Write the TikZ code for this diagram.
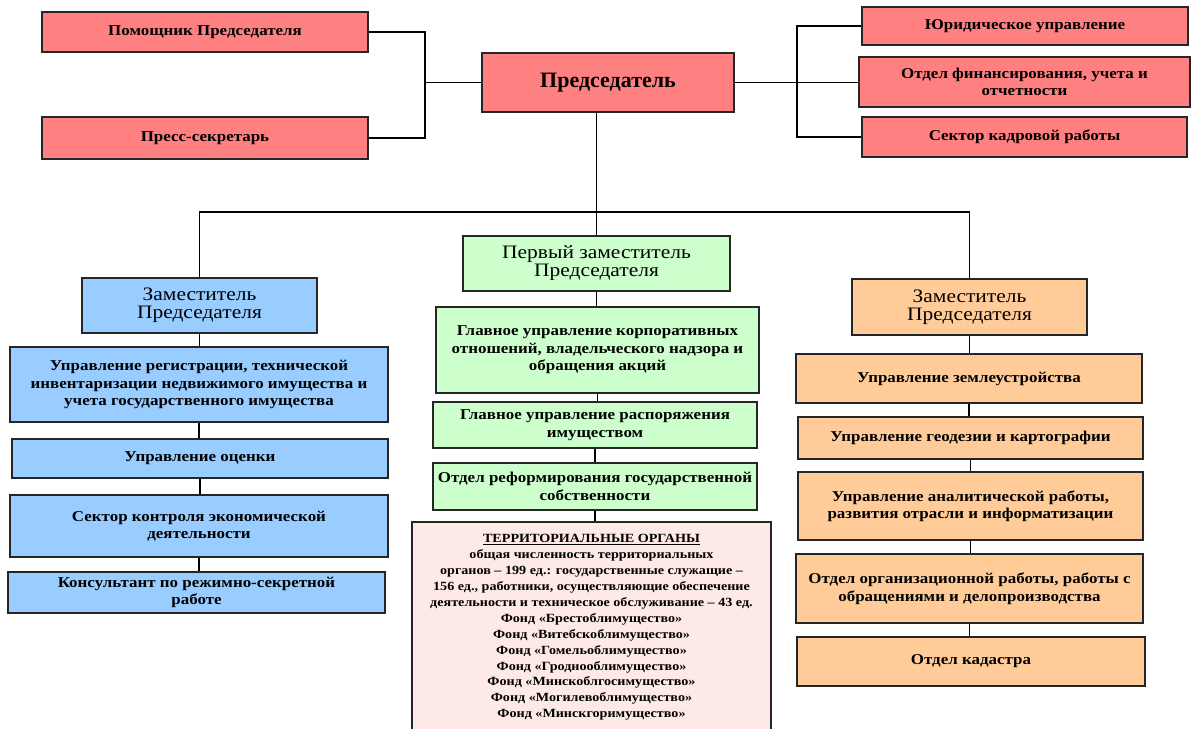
\documentclass[tikz,border=0pt]{standalone}
\usepackage{fontspec}
\setmainfont{Liberation Serif}
\newfontfamily\wideserif{Liberation Serif}[FakeStretch=1.13]
\definecolor{chairred}{RGB}{255,128,128}
\definecolor{deputyblue}{RGB}{153,204,255}
\definecolor{firstgreen}{RGB}{204,255,204}
\definecolor{deputyorange}{RGB}{255,204,153}
\definecolor{terrpink}{RGB}{253,233,229}

\begin{document}
\begin{tikzpicture}[x=1pt, y=-1pt,
	box/.style={draw=black!85, line width=1.4pt, align=center, inner sep=0pt,
		font=\wideserif\bfseries\fontsize{15}{17.5}\selectfont},
	redbox/.style={box, fill=chairred},
	bluebox/.style={box, fill=deputyblue},
	greenbox/.style={box, fill=firstgreen},
	orangebox/.style={box, fill=deputyorange},
	deputy/.style={font=\wideserif\fontsize{19}{18}\selectfont},
	link/.style={draw=black, line width=1.2pt}]
\useasboundingbox (0,0) rectangle (1193,728);
\clip (0,0) rectangle (1193,728);

\node[redbox, minimum width=326, minimum height=40] (pom) at (205,32) {Помощник Председателя};
\node[redbox, minimum width=326, minimum height=42] (press) at (205,138) {Пресс-секретарь};
\node[redbox, minimum width=252, minimum height=59, font=\rmfamily\bfseries\fontsize{22}{24}\selectfont] (pred) at (608,82.5) {Председатель};
\node[redbox, minimum width=326, minimum height=38] (jur) at (1025,26) {Юридическое управление};
\node[redbox, minimum width=331, minimum height=50] (fin) at (1024.5,82) {Отдел финансирования, учета и\\отчетности};
\node[redbox, minimum width=325, minimum height=40] (kadr) at (1024.5,137) {Сектор кадровой работы};

\node[bluebox, deputy, minimum width=235, minimum height=55] (zam1) at (199.5,305.5) {Заместитель\\Председателя};
\node[bluebox, minimum width=378, minimum height=75] (reg) at (199,384.5) {Управление регистрации, технической\\инвентаризации недвижимого имущества и\\учета государственного имущества};
\node[bluebox, minimum width=376, minimum height=39] (ocen) at (200,458.5) {Управление оценки};
\node[bluebox, minimum width=378, minimum height=62] (kontr) at (199,526) {Сектор контроля экономической\\деятельности};
\node[bluebox, minimum width=377, minimum height=41] (kons) at (196.5,592.5) {Консультант по режимно-секретной\\работе};

\node[greenbox, deputy, minimum width=267, minimum height=55] (first) at (596.5,263.5) {Первый заместитель\\Председателя};
\node[greenbox, minimum width=323, minimum height=86] (korp) at (597.5,350) {Главное управление корпоративных\\отношений, владельческого надзора и\\обращения акций};
\node[greenbox, minimum width=324, minimum height=46] (rasp) at (595,425) {Главное управление распоряжения\\имуществом};
\node[greenbox, minimum width=324, minimum height=47] (reform) at (595,486.5) {Отдел реформирования государственной\\собственности};
\node[box, fill=terrpink, minimum width=359, minimum height=211, font=\wideserif\bfseries\fontsize{12.5}{15.9}\selectfont] (terr) at (591.5,627.5) {\underline{ТЕРРИТОРИАЛЬНЫЕ ОРГАНЫ}\\общая численность территориальных\\органов – 199 ед.: государственные служащие –\\156 ед., работники, осуществляющие обеспечение\\деятельности и техническое обслуживание – 43 ед.\\Фонд «Брестоблимущество»\\Фонд «Витебскоблимущество»\\Фонд «Гомельоблимущество»\\Фонд «Гроднооблимущество»\\Фонд «Минскоблгосимущество»\\Фонд «Могилевоблимущество»\\Фонд «Минскгоримущество»};

\node[orangebox, deputy, minimum width=235, minimum height=56] (zam2) at (969.5,307) {Заместитель\\Председателя};
\node[orangebox, minimum width=346, minimum height=49] (zeml) at (969,378.5) {Управление землеустройства};
\node[orangebox, minimum width=345, minimum height=42] (geod) at (970.5,438) {Управление геодезии и картографии};
\node[orangebox, minimum width=345, minimum height=68] (anal) at (970.5,506) {Управление аналитической работы,\\развития отрасли и информатизации};
\node[orangebox, minimum width=347, minimum height=69] (org) at (969.5,588.5) {Отдел организационной работы, работы с\\обращениями и делопроизводства};
\node[orangebox, minimum width=348, minimum height=49] (kad) at (971,661.5) {Отдел кадастра};

\coordinate (lj) at (425,82.5);
\coordinate (rj) at (797,82.5);
\coordinate (bus) at (596.5,212);
\draw[link] (pom.east) -| (lj) |- (press.east);
\draw[link] (lj) -- (pred.west);
\draw[link] (jur.west) -| (rj) |- (kadr.west);
\draw[link] (pred.east) -- (pred.east -| fin.west);
\draw[link] (pred.south -| first.north) -- (first.north);
\draw[link] (zam1.north) |- (bus) -| (zam2.north);
\foreach \a/\b in {zam1/reg, reg/ocen, ocen/kontr, kontr/kons,
	first/korp, korp/rasp, rasp/reform, reform/terr,
	zam2/zeml, zeml/geod, geod/anal, anal/org, org/kad}
	\draw[link] (\a.south) -- (\a.south |- \b.north);
\end{tikzpicture}
\end{document}
